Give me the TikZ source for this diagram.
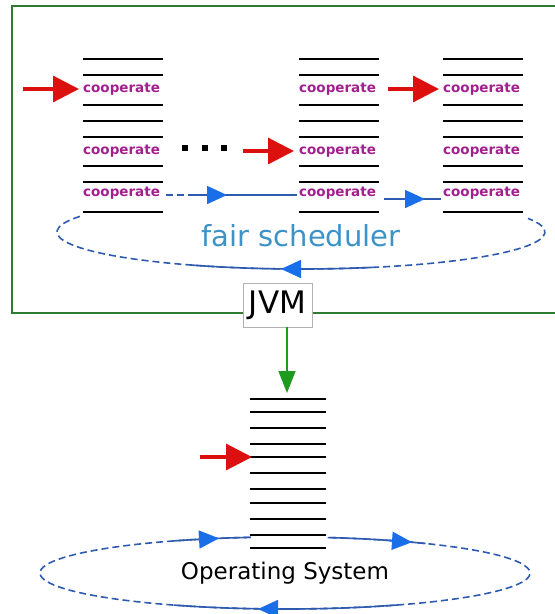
\documentclass[tikz,border=0pt]{standalone}
\usepackage{fontspec}
\setmainfont{DejaVu Sans}
\usetikzlibrary{arrows.meta}
\definecolor{framegreen}{HTML}{2E7A2E}
\definecolor{arrowgreen}{HTML}{1E9A1E}
\definecolor{threadred}{HTML}{DD1010}
\definecolor{loopblue}{HTML}{2E5BB0}
\definecolor{headblue}{HTML}{1A6FE8}
\definecolor{schedtext}{HTML}{3D93C8}
\definecolor{yieldpurple}{HTML}{A2208E}
\tikzset{
  slot/.style={line width=2.4pt, black},
  yieldlabel/.style={text=yieldpurple, font=\bfseries\fontsize{13.5}{13.5}\selectfont, inner sep=0pt, anchor=base west},
  redarrow/.style={threadred, line width=3.2pt, -{Triangle[length=26pt,width=26pt]}},
  bluedash/.style={loopblue, line width=1.6pt, dash pattern=on 7pt off 4pt},
  blueline/.style={loopblue, line width=1.6pt},
  bluehead/.style={headblue, line width=1.6pt, -{Triangle[length=20pt,width=18pt]}},
  dotsq/.style={fill=black, inner sep=0pt, minimum size=6.5pt},
}
% one thread stack: lines plus three labelled slots named <name>a, <name>b, <name>c
\newcommand{\threadstack}[2]{%
  \foreach \yy in {59,75,105,121,137,166,182,212}
    \draw[slot] (#2,-\yy) -- ++(80,0);
  \node[yieldlabel] (#1a) at (#2,-92.5) {cooperate};
  \node[yieldlabel] (#1b) at (#2,-154.5) {cooperate};
  \node[yieldlabel] (#1c) at (#2,-196.5) {cooperate};
}
\begin{document}
\begin{tikzpicture}[x=1pt,y=1pt]
\useasboundingbox (0,0) rectangle (555,-614);
\clip (0,0) rectangle (555,-614);

% JVM frame
\draw[framegreen, line width=2pt] (12,-6) rectangle (562,-313);

% fair scheduler loop
\draw[bluedash] (301,-232) ++(155:244 and 37)
  arc[start angle=155, end angle=381.5, x radius=244, y radius=37];
\draw[blueline] (301,-232) ++(243:244 and 37)
  arc[start angle=243, end angle=287, x radius=244, y radius=37];
\draw[bluehead] (301,-269) -- (281,-269);
\node[text=schedtext, font=\fontsize{29}{29}\selectfont] (sched) at (301,-236) {fair scheduler};

% green threads
\threadstack{ta}{83}
\threadstack{tb}{299}
\threadstack{tc}{443}

\node[dotsq] (d1) at (185,-148) {};
\node[dotsq] (d2) at (205,-148) {};
\node[dotsq] (d3) at (224,-148) {};

\coordinate (ra) at (23,-89);
\coordinate (rb) at (243,-151);
\coordinate (rc) at (388,-89);
\draw[redarrow] (ra) -- ([xshift=-4pt,yshift=3.5pt]taa.base west);
\draw[redarrow] (rb) -- ([xshift=-5pt,yshift=3.5pt]tbb.base west);
\draw[redarrow] (rc) -- ([xshift=-4pt,yshift=3.5pt]tca.base west);

% scheduler hand-over between stacks
\draw[bluedash] (166,-195) -- (192,-195);
\draw[blueline] (192,-195) -- (297,-195);
\draw[bluehead] (207,-195) -- (227,-195);
\draw[blueline] (384,-199) -- (441,-199);
\draw[bluehead] (404,-199) -- (425,-199);

% JVM box on the frame
\node[draw=gray!60, fill=white, line width=1pt, minimum width=69pt, minimum height=44pt,
      inner sep=0pt, font=\fontsize{31}{31}\selectfont] (jvm) at (277.5,-305) {JVM};
\coordinate (jvmout) at (287,-327);
\coordinate (ostop) at (287,-393);
\draw[arrowgreen, line width=1.6pt, -{Triangle[length=22pt,width=17pt]}] (jvmout) -- (ostop);

% operating system loop
\draw[bluedash] (285,-573) ++(98:245 and 36)
  arc[start angle=98, end angle=440, x radius=245, y radius=36];
\draw[blueline] (285,-573) ++(98:245 and 36)
  arc[start angle=98, end angle=117, x radius=245, y radius=36];
\draw[blueline] (285,-573) ++(55:245 and 36)
  arc[start angle=55, end angle=80, x radius=245, y radius=36];
\draw[blueline] (285,-573) ++(243:245 and 36)
  arc[start angle=243, end angle=297.5, x radius=245, y radius=36];
\draw[bluehead] (197,-539.6) -- (219,-538.3);
\draw[bluehead] (389,-540.6) -- (412,-542.2);
\draw[bluehead] (280,-609) -- (258,-609);

% native thread stack
\foreach \yy in {399,412,428,444,457,473,489,503,519,535,548}
  \draw[slot] (250,-\yy) -- (326,-\yy);
\coordinate (osin) at (200,-457);
\coordinate (osslot) at (252,-457);
\draw[redarrow] (osin) -- (osslot);

\node[anchor=base, font=\fontsize{23}{23}\selectfont] (os) at (285,-579) {Operating System};
\end{tikzpicture}
\end{document}
